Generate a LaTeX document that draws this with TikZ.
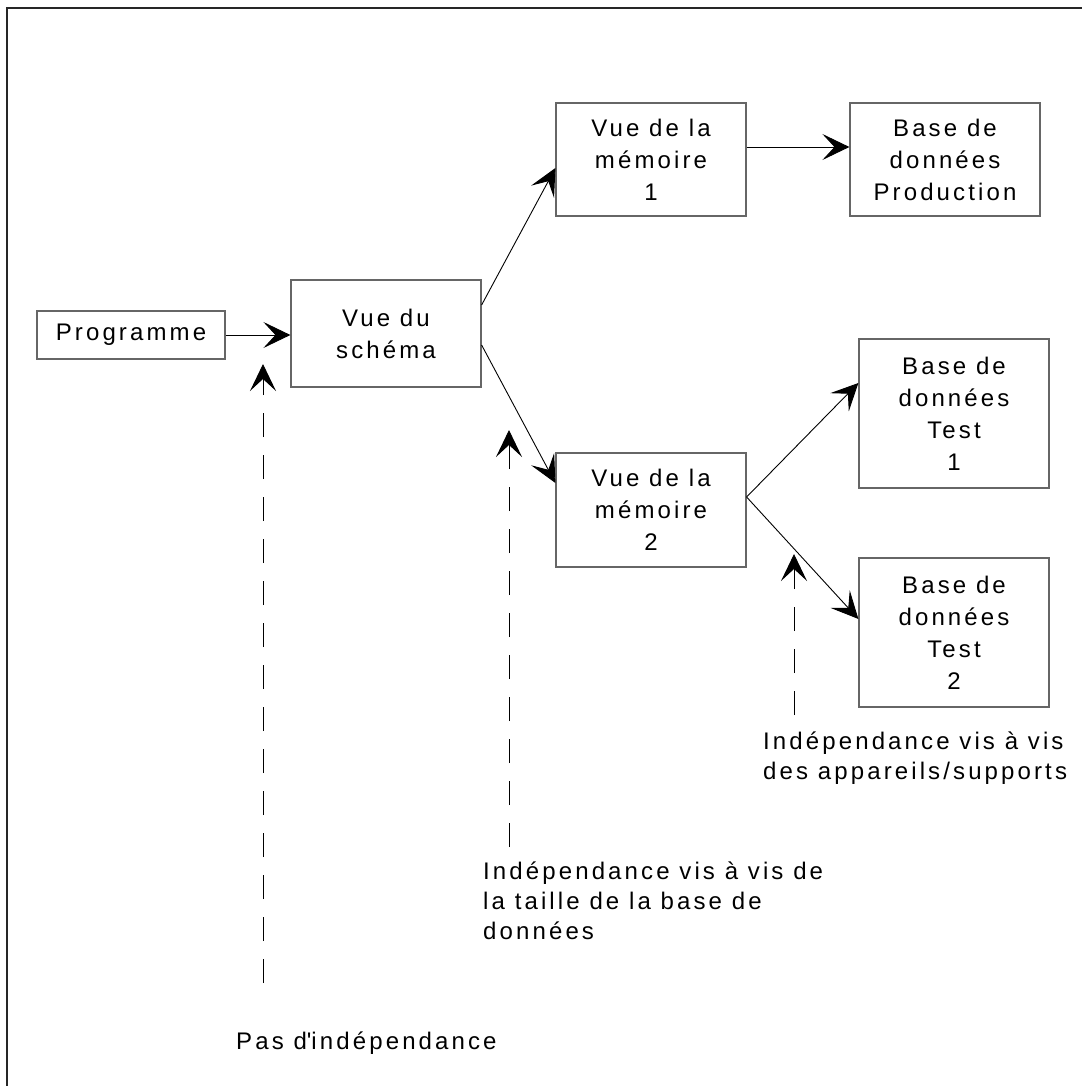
\documentclass[tikz,border=0pt]{standalone}
\usepackage{fontspec}
\setmainfont{Liberation Sans}[LetterSpace=13]
\usetikzlibrary{arrows.meta}
\begin{document}
\begin{tikzpicture}[x=1pt,y=-1pt,
  box/.style={draw=black!60, line width=1.2pt, minimum width=190pt, inner sep=0pt, align=center, font=\fontsize{24}{32}\selectfont},
  conn/.style={line width=0.9pt, -{Stealth[length=27pt,width=26pt,inset=12pt]}},
  dasharrow/.style={line width=0.9pt, dash pattern=on 24pt off 18pt, -{Stealth[length=27pt,width=26pt,inset=12pt]}},
  ann/.style={anchor=base west, align=left, inner sep=0pt, font=\fontsize{24}{30}\selectfont}]
\useasboundingbox (0,0) rectangle (1082,1086);
\fill[white] (0,0) rectangle (1082,1086);
\draw[line width=1.5pt, black!85] (7,1086) -- (7,8) -- (1082,8);

\node[box, minimum width=188pt, minimum height=48pt] (prog) at (131,335) {Programme};
\node[box, minimum height=107pt] (schema) at (386,333.5) {Vue du\\schéma};
\node[box, minimum height=113pt] (mem1) at (651,159.5) {Vue de la\\mémoire\\1};
\node[box, minimum height=113pt] (prod) at (945,159.5) {Base de\\données\\Production};
\node[box, minimum height=114pt] (mem2) at (651,510) {Vue de la\\mémoire\\2};
\node[box, minimum height=149pt] (test1) at (954,413.5) {Base de\\données\\Test\\1};
\node[box, minimum height=149pt] (test2) at (954,632.5) {Base de\\données\\Test\\2};

\draw[conn] (prog.east) -- (prog.east -| schema.west);
\draw[conn] ([yshift=28.5pt]schema.east) -- ([yshift=-8.5pt]mem1.west);
\draw[conn] ([yshift=-11.5pt]schema.east) -- ([yshift=27pt]mem2.west);
\draw[conn] ([yshift=12.5pt]mem1.east) -- ([yshift=12.5pt]prod.west);
\draw[conn] ([yshift=13pt]mem2.east) -- ([yshift=30.5pt]test1.west);
\draw[conn] ([yshift=13pt]mem2.east) -- ([yshift=13.5pt]test2.west);

\coordinate (d1s) at (263,983);
\coordinate (d1e) at (263,364);
\coordinate (d2s) at (509,847);
\coordinate (d2e) at (509,430);
\coordinate (d3s) at (794,715);
\coordinate (d3e) at (794,554);
\draw[dasharrow] (d1s) -- (d1e);
\draw[dasharrow] (d2s) -- (d2e);
\draw[dasharrow] (d3s) -- (d3e);

\node[ann] (a1) at (236,1049) {Pas d\textquotesingle indépendance};
\node[ann] (a2) at (483,939) {Indépendance vis à vis de\\la taille de la base de\\données};
\node[ann] (a3) at (763,779) {Indépendance vis à vis\\des appareils/supports};
\end{tikzpicture}
\end{document}
